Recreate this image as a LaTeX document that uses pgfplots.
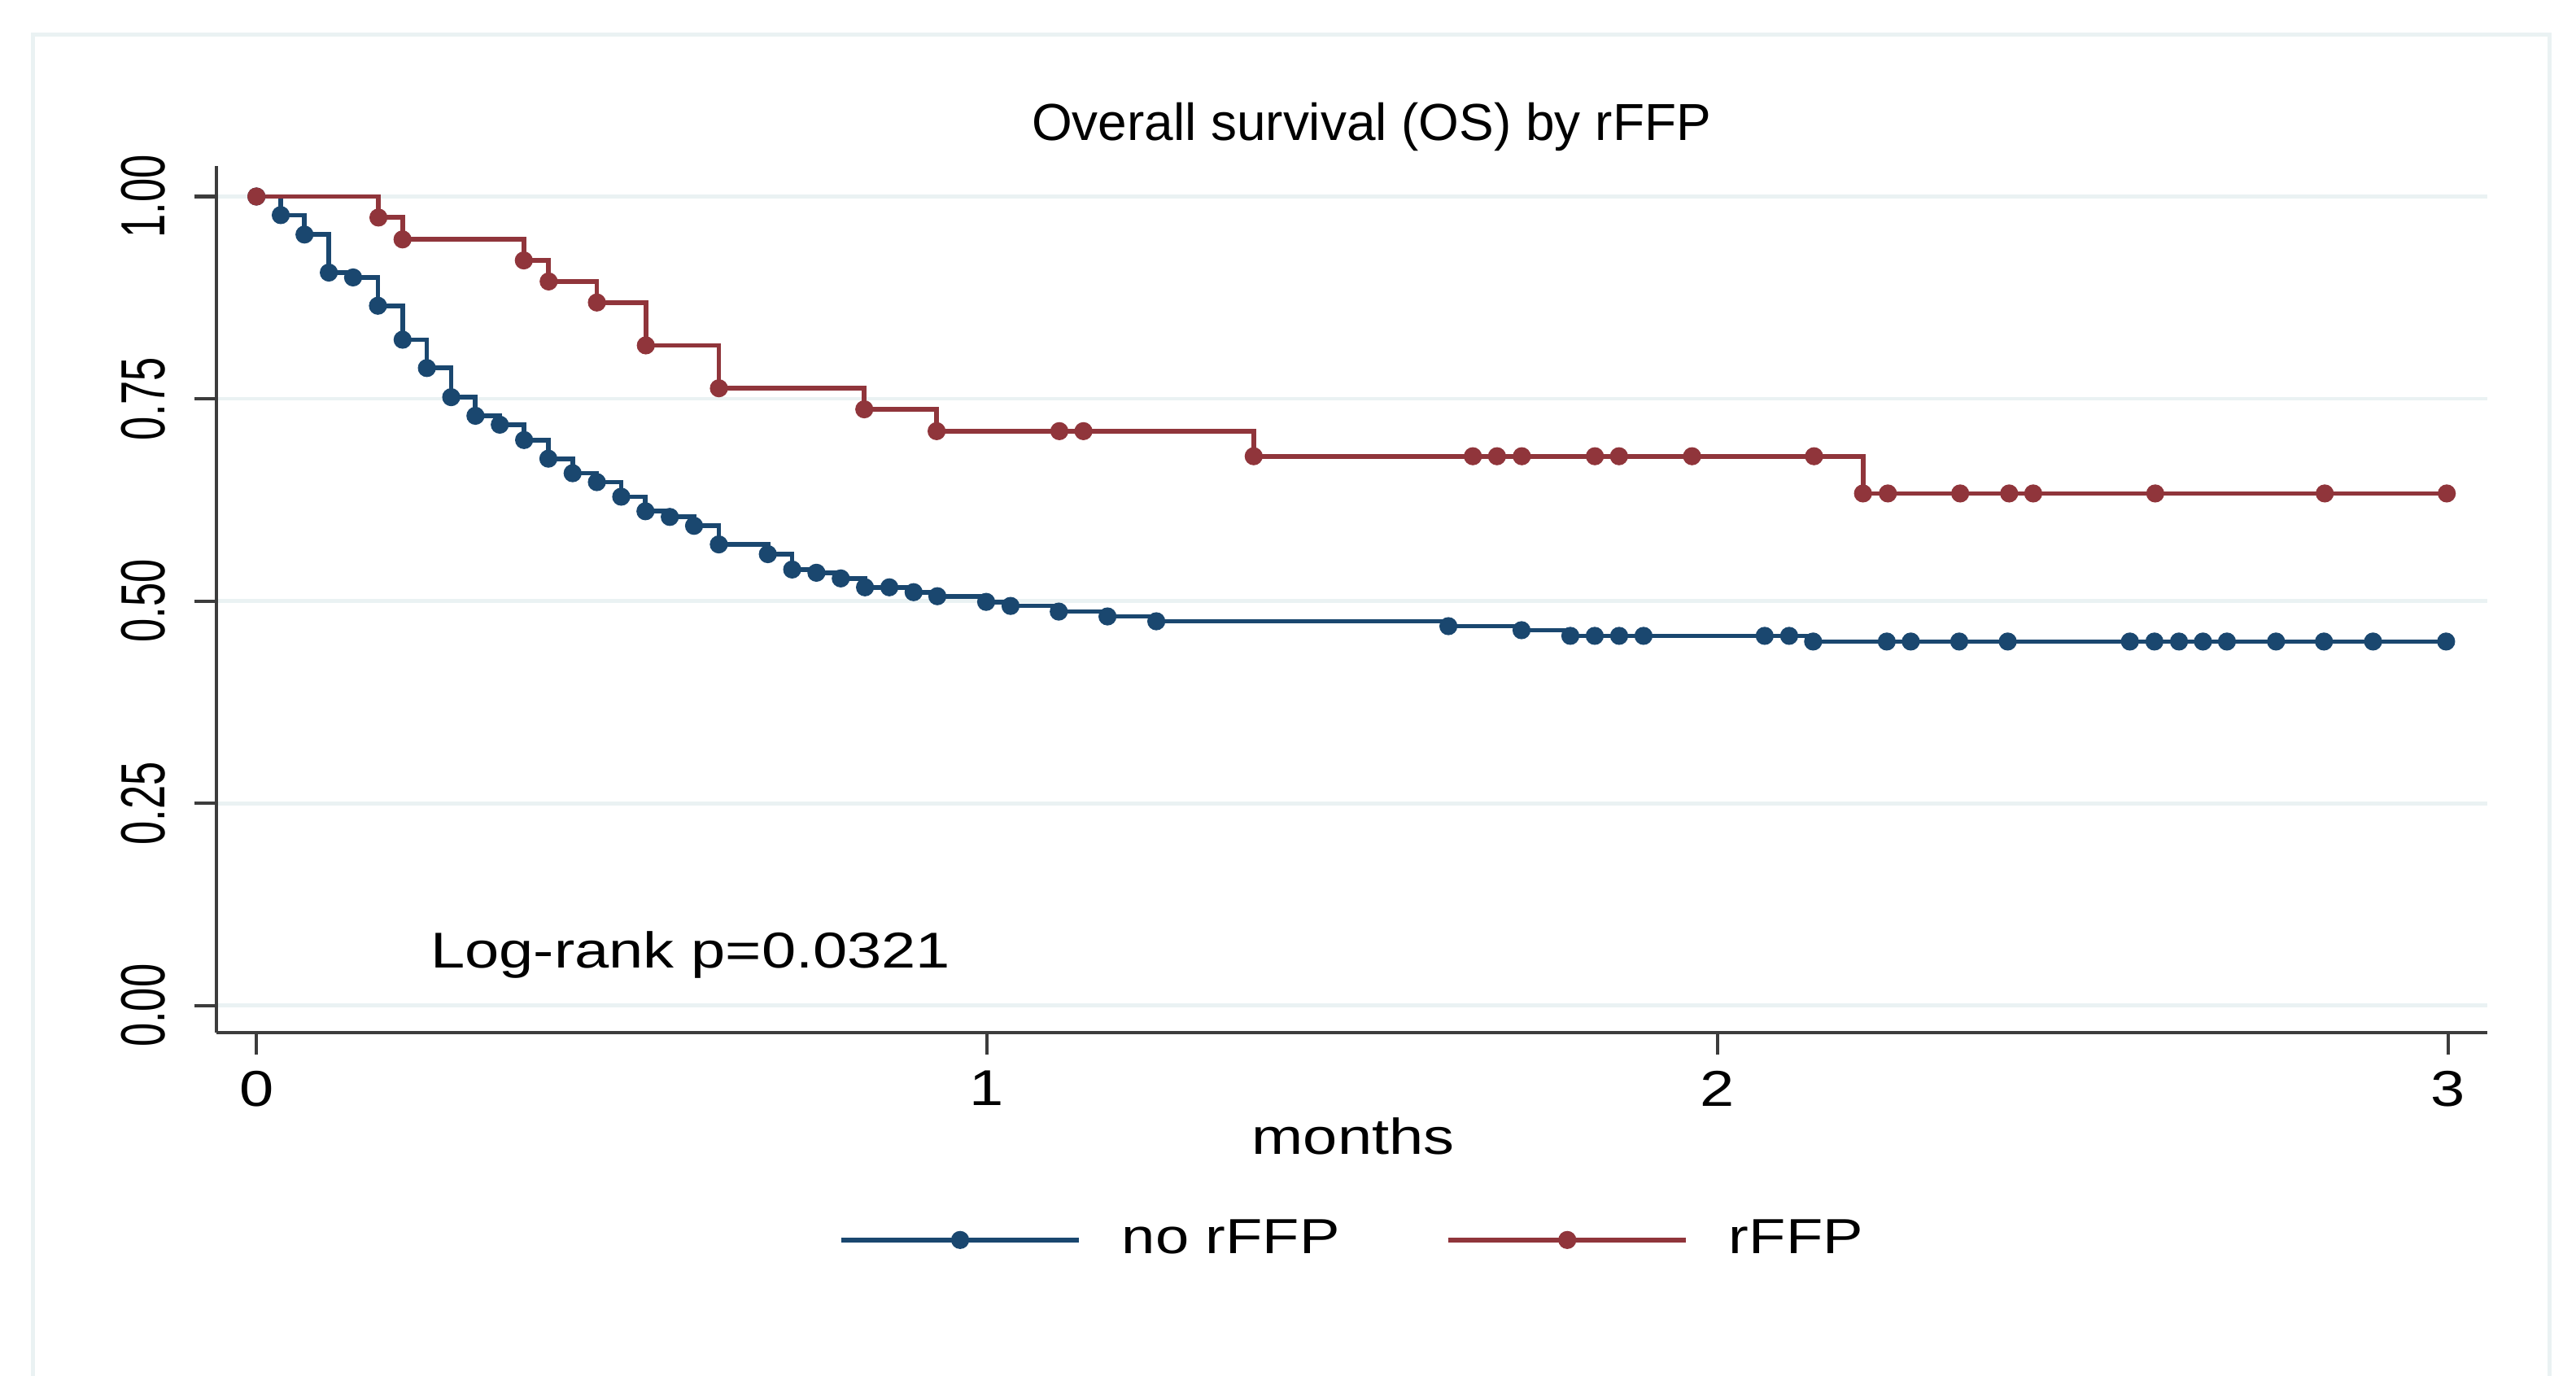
\documentclass[border=0pt]{standalone}
\usepackage{fontspec}
\setmainfont{Liberation Sans}
\usepackage{pgfplots}
\pgfplotsset{compat=1.18}
\usepackage{graphicx}

\definecolor{sblue}{RGB}{26,71,111}
\definecolor{sred}{RGB}{144,53,59}
\definecolor{gridc}{RGB}{234,242,243}
\definecolor{framec}{RGB}{234,242,243}
\definecolor{axc}{RGB}{60,60,60}

\newcommand\sx[1]{\scalebox{1.225}[1]{#1}}
\newcommand\sy[1]{\scalebox{1}[1.46]{#1}}

\pgfplotstableread{
t s
0      1.000
0.0333 0.977
0.0658 0.953
0.0991 0.906
0.1323 0.900
0.1663 0.865
0.2001 0.823
0.2333 0.788
0.2666 0.752
0.2998 0.729
0.3331 0.718
0.3664 0.699
0.3996 0.676
0.4328 0.658
0.4660 0.647
0.4993 0.629
0.5325 0.611
0.5658 0.604
0.5990 0.593
0.6329 0.570
0.7000 0.558
0.7333 0.539
0.7665 0.535
0.7998 0.528
0.8330 0.517
0.8663 0.517
0.8995 0.511
0.9320 0.506
0.9988 0.499
1.0322 0.494
1.0982 0.487
1.1649 0.481
1.2317 0.475
1.6315 0.469
1.7316 0.464
1.7984 0.457
1.8318 0.457
1.8652 0.457
1.8986 0.457
2.0644 0.457
2.0979 0.457
2.1307 0.450
2.2315 0.450
2.2644 0.450
2.3307 0.450
2.3971 0.450
2.5643 0.450
2.5979 0.450
2.6315 0.450
2.6643 0.450
2.6971 0.450
2.7643 0.450
2.8299 0.450
2.8971 0.450
2.9971 0.450
}\norffp

\pgfplotstableread{
t s
0     1.000
0.167 0.974
0.200 0.947
0.366 0.921
0.400 0.895
0.466 0.869
0.533 0.816
0.633 0.763
0.832 0.737
0.931 0.710
1.099 0.710
1.132 0.710
1.365 0.679
1.665 0.679
1.698 0.679
1.732 0.679
1.832 0.679
1.865 0.679
1.965 0.679
2.132 0.679
2.199 0.633
2.233 0.633
2.332 0.633
2.399 0.633
2.432 0.633
2.599 0.633
2.831 0.633
2.998 0.633
}\rffp

\begin{document}
\begin{tikzpicture}
\useasboundingbox (-39.5pt,-62.5pt) rectangle (430.9pt,188.6pt);
\draw[framec, line width=0.75pt] (-33.5pt,-70pt) -- (-33.5pt,182.3pt) -- (426.1pt,182.3pt) -- (426.1pt,-70pt);
\begin{axis}[
  scale only axis,
  width=414.7pt, height=158.3pt,
  xmin=-0.0549, xmax=3.0535,
  ymin=-0.0337, ymax=1.0378,
  axis lines*=left,
  axis line style={axc, line width=0.6pt},
  tick align=outside,
  major tick length=4pt,
  tick style={axc, line width=0.6pt},
  xtick={0,1,2,3},
  xticklabels={\sx{0},\sx{1},\sx{2},\sx{3}},
  ytick={0,0.25,0.5,0.75,1},
  yticklabels={\sy{0.00},\sy{0.25},\sy{0.50},\sy{0.75},\sy{1.00}},
  xticklabel style={font=\fontsize{9.2}{11}\selectfont, anchor=north, inner sep=0pt, yshift=-2.7pt},
  yticklabel style={font=\fontsize{7.8}{9}\selectfont, xshift=-5.1pt, rotate=90, anchor=south, inner sep=0pt},
  ymajorgrids,
  grid style={gridc, line width=0.7pt},
  title={Overall survival (OS) by rFFP},
  title style={font=\fontsize{9.5}{11}\selectfont, at={(axis description cs:0.5086,1)}, anchor=base, yshift=-1.4pt, inner sep=0pt},
  xlabel={\sx{months}},
  xlabel style={font=\fontsize{9.2}{11}\selectfont, at={(axis description cs:0.5006,0)}, anchor=base, yshift=-22.1pt, inner sep=0pt},
  legend style={draw=none, fill=none, at={(axis description cs:0.2737,-0.2401)}, anchor=west,
    legend columns=2, font=\fontsize{9}{11}\selectfont,
    /tikz/every odd column/.append style={column sep=7.4pt},
    /tikz/every even column/.append style={column sep=19.4pt},
    nodes={inner sep=0pt}, inner sep=0pt},
  legend cell align=left,
  legend image code/.code={\draw[#1, mark repeat=2, mark phase=2] plot coordinates {(0pt,0.2pt) (21.7pt,0.2pt) (43.4pt,0.2pt)};},
]
\addplot[const plot, sblue, line width=0.85pt, mark=*, mark size=1.55pt,
  mark options={solid, fill=sblue, draw=sblue, line width=0.2pt}] table[x=t, y=s] {\norffp};
\addlegendentry{\sx{no rFFP}}
\addplot[const plot, sred, line width=0.85pt, mark=*, mark size=1.55pt,
  mark options={solid, fill=sred, draw=sred, line width=0.2pt}] table[x=t, y=s] {\rffp};
\addlegendentry{\sx{rFFP}}
\node[anchor=base west, inner sep=0pt, font=\fontsize{9.2}{11}\selectfont] at (axis cs:0.237,0.0471) {\sx{Log-rank p=0.0321}};
\end{axis}
\end{tikzpicture}
\end{document}
